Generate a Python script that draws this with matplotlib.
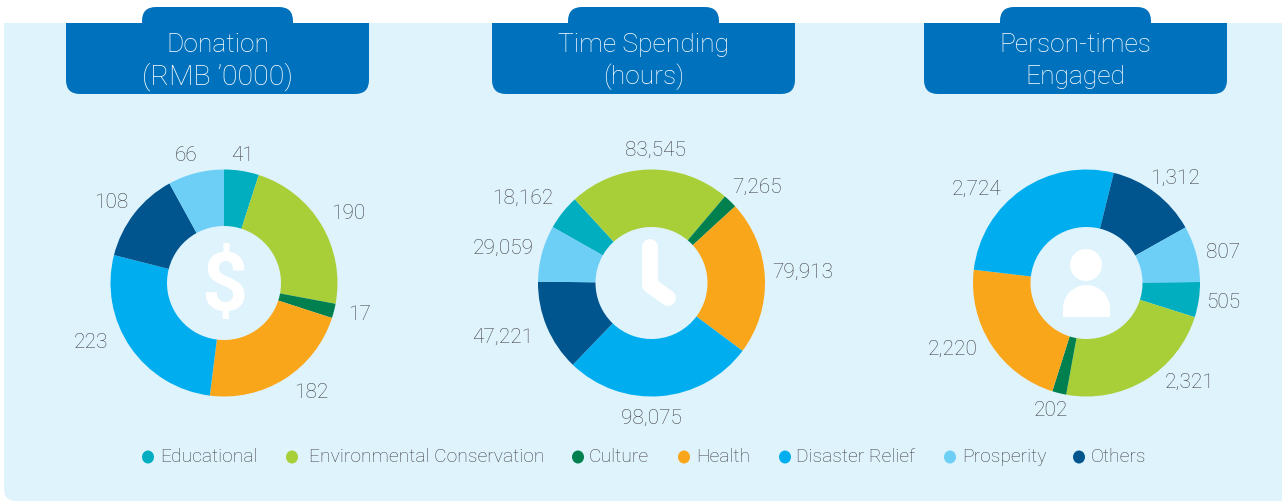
import matplotlib
matplotlib.use('Agg')
import matplotlib.pyplot as plt
from matplotlib.patches import Circle, Ellipse, FancyBboxPatch, Rectangle, Wedge

W, H = 1282, 501

categories = ['Educational', 'Environmental Conservation', 'Culture', 'Health',
              'Disaster Relief', 'Others', 'Prosperity']
donation = [41, 190, 17, 182, 223, 108, 66]
time_spending = [18162, 83545, 7265, 79913, 98075, 47221, 29059]
person_times = [505, 2321, 202, 2220, 2724, 1312, 807]

colors = ['#00AEBF', '#A8CF38', '#00804F', '#FAA61A', '#00AEEF', '#00558F', '#6DCFF6']
panel_col = '#DFF3FD'
head_col = '#0071BC'
grey = '#404042'

plt.rcParams['font.family'] = ['Roboto', 'DejaVu Sans']

fig = plt.figure(figsize=(W / 100, H / 100), dpi=100, facecolor='white')
ax = fig.add_axes([0, 0, 1, 1])


def yy(y):
    # picture pixels run downwards
    return H - y


def rbox(x0, y0, x1, y1, col, r, clip=None, z=1):
    b = FancyBboxPatch((x0 + r, yy(y1) + r), x1 - x0 - 2 * r, y1 - y0 - 2 * r,
                       boxstyle='round,pad=%s,rounding_size=%s' % (r, r),
                       fc=col, ec='none', zorder=z)
    ax.add_patch(b)
    if clip is not None:
        b.set_clip_path(Rectangle((clip[0], yy(clip[3])), clip[2] - clip[0], clip[3] - clip[1],
                                  transform=ax.transData))


def donut(vals, cx, cy, start, r_in):
    ax.pie(vals, colors=colors, center=(cx, yy(cy)), radius=113.5, startangle=start,
           counterclock=False, wedgeprops=dict(width=113.5 - r_in, linewidth=0), frame=True)


# panel runs off the right edge, rounded bottom left
rbox(4, 0, 1310, 501, panel_col, 12, clip=(0, 23, W, H))

# header tabs
for x0, x1, tx0, tx1, t1, t2, fs2 in [(66, 369, 142, 293, 'Donation', '(RMB ’0000)', 20.5),
                                      (492, 795, 568, 719, 'Time Spending', '(hours)', 19),
                                      (924, 1227, 1000, 1151, 'Person-times', 'Engaged', 19)]:
    rbox(x0, 0, x1, 94, head_col, 14, clip=(0, 23, W, H), z=2)
    rbox(tx0, 7, tx1, 60, head_col, 14, z=2)
    ax.text((x0 + x1) / 2, yy(45), t1, color='white', fontsize=19, ha='center', va='center',
            zorder=3, weight='light')
    ax.text((x0 + x1) / 2, yy(77), t2, color='white', fontsize=fs2, ha='center', va='center',
            zorder=3, weight='light')

donut(donation, 224, 283, 90, 57)
donut(time_spending, 651.5, 283, 150.5, 56)
donut(person_times, 1086.5, 283, 0.5, 56)

# value labels, same order as the data
for vals, pos in [
    (donation, [(243, 155), (348, 213), (360, 314), (311, 393), (91, 342), (111, 202), (186, 155)]),
    (time_spending, [(523, 198), (655, 150), (757, 187), (803, 272), (651, 418), (503, 337), (503, 248)]),
    (person_times, [(1223, 302), (1190, 382), (1051, 411), (953, 349), (977, 189), (1175, 178), (1223, 253)]),
]:
    for v, (x, y) in zip(vals, pos):
        ax.text(x, yy(y), format(v, ','), color=grey, fontsize=15, ha='center', va='center',
                weight='light')

# centre icons
ax.text(224, yy(288), '$', color='white', fontsize=58, fontweight='bold', ha='center',
        va='center', zorder=5)
ax.plot([650, 650, 668], [yy(247), yy(285), yy(298)], color='white', lw=11.5,
        solid_capstyle='round', solid_joinstyle='round', zorder=5)
ax.add_patch(Circle((1086, yy(265)), 16, fc='white', ec='none', zorder=5))
ax.add_patch(Wedge((1086.5, yy(308.5)), 23.5, 0, 180, fc='white', ec='none', zorder=5))
ax.add_patch(Rectangle((1063, yy(317)), 47, 10, fc='white', ec='none', zorder=5))

# legend
leg_dot = [148, 292, 578, 684, 785, 1079, 950]
leg_txt = [160, 309, 589, 696, 796, 1091, 962]
for c, name, dx, tx in zip(colors, categories, leg_dot, leg_txt):
    ax.add_patch(Ellipse((dx, yy(457)), 12, 13, fc=c, ec='none', zorder=3))
    ax.text(tx, yy(457), name, color=grey, fontsize=13.9, ha='left', va='center', weight='light')

ax.set_xlim(0, W)
ax.set_ylim(0, H)
ax.set_aspect('auto')
ax.axis('off')
fig.savefig('out.png', dpi=100, facecolor='white')
